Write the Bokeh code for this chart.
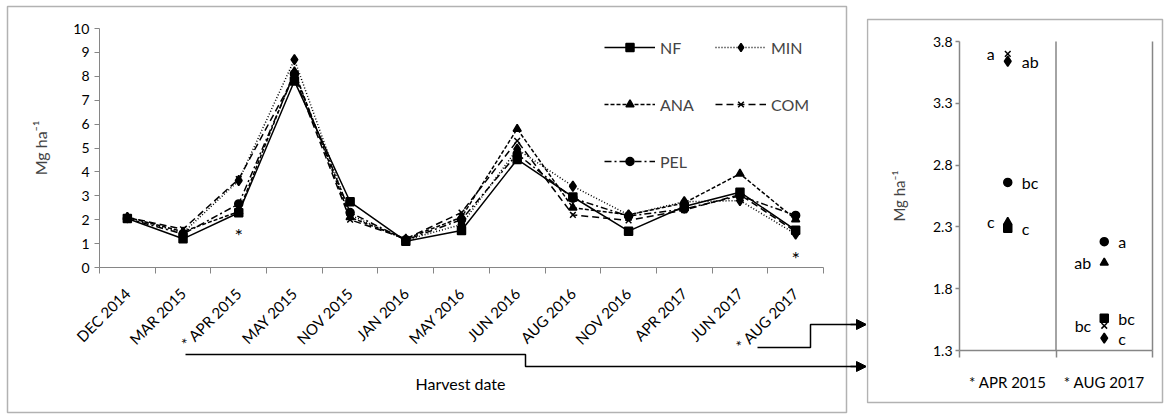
import math
from bokeh.plotting import figure
from bokeh.layouts import row
from bokeh.models import (FixedTicker, Legend, LegendItem, BoxAnnotation, Arrow,
                          NormalHead, Label, ColumnDataSource, Range1d)
from bokeh.core.properties import value
from bokeh.embed import file_html
from bokeh.resources import INLINE

FONT = "Lato"

dates = ["DEC 2014", "MAR 2015", "* APR 2015", "MAY 2015", "NOV 2015", "JAN 2016",
         "MAY 2016", "JUN 2016", "AUG 2016", "NOV 2016", "APR 2017", "JUN 2017",
         "* AUG 2017"]
NF = [2.05, 1.20, 2.29, 7.80, 2.75, 1.10, 1.55, 4.52, 2.95, 1.52, 2.55, 3.15, 1.56]
MIN = [2.10, 1.45, 3.64, 8.70, 2.20, 1.15, 1.80, 4.95, 3.40, 2.20, 2.75, 2.80, 1.40]
ANA = [2.10, 1.50, 2.34, 8.20, 2.10, 1.20, 2.10, 5.80, 2.50, 2.20, 2.70, 3.92, 2.01]
COM = [2.10, 1.60, 3.70, 8.00, 2.00, 1.20, 2.30, 5.30, 2.20, 1.97, 2.40, 3.05, 1.50]
PEL = [2.05, 1.40, 2.66, 8.10, 2.30, 1.15, 2.00, 4.75, 2.90, 2.15, 2.45, 3.00, 2.18]

series_names = ["NF", "MIN", "ANA", "COM", "PEL"]
series_vals = [NF, MIN, ANA, COM, PEL]

# inset (dates with significant differences)
inset_dates = ["* APR 2015", "* AUG 2017"]
APR_2015 = [2.29, 3.64, 2.34, 3.70, 2.66]   # NF, MIN, ANA, COM, PEL
AUG_2017 = [1.56, 1.40, 2.01, 1.50, 2.18]
APR_letters = ["c", "ab", "c", "a", "bc"]
APR_sides = ["right", "right", "left", "left", "right"]
AUG_letters = ["bc", "c", "ab", "bc", "a"]
AUG_sides = ["right", "right", "left", "left", "right"]

styles = {
    "NF":  dict(dash="solid", marker="square", size=8),
    "MIN": dict(dash="1 2", marker="diamond", size=10),
    "ANA": dict(dash="4 2", marker="triangle", size=8),
    "COM": dict(dash="7 4", marker="x", size=8),
    "PEL": dict(dash="7 3 2 3", marker="circle", size=8),
}

GRAY = "#868686"
H = 415

# ---------------- main chart ----------------
n = len(dates)
xc = [i + 0.5 for i in range(n)]

W1 = 866
FL, FB = 99, 267          # pixel position of (x=0, y=0)
SX, SY = 55.692, 23.9     # pixels per unit

def px1(page_x):
    return (page_x - FL) / SX

def py1(page_y):
    return (FB - page_y) / SY

p = figure(width=W1, height=H,
           x_range=Range1d(-FL / SX, (W1 - FL) / SX),
           y_range=Range1d(-(H - FB) / SY, FB / SY),
           output_backend="svg", toolbar_location=None,
           min_border_left=0, min_border_right=0, min_border_top=0,
           min_border_bottom=0)
p.outline_line_color = None
p.xgrid.visible = False
p.ygrid.visible = False

items = []
for name, vals in zip(series_names, series_vals):
    st = styles[name]
    lr = p.line(xc, vals, line_color="black", line_width=1.5, line_dash=st["dash"])
    sr = p.scatter(xc, vals, marker=st["marker"], size=st["size"],
                   fill_color="black", line_color="black", line_width=1.5)
    items.append(LegendItem(label=name, renderers=[lr, sr]))

def make_legend(its, loc):
    return Legend(items=its, location=loc,
                  label_text_font=FONT, label_text_font_size="16px",
                  glyph_width=51, glyph_height=20, label_height=20, spacing=37,
                  label_standoff=5, padding=0, margin=0,
                  border_line_color=None, background_fill_alpha=0)

# column 1: NF, ANA, PEL ; column 2: MIN, COM
p.add_layout(make_legend([items[0], items[2], items[4]], (604, H - (37 + 134))))
p.add_layout(make_legend([items[1], items[3]], (715, H - (37 + 77))))

# y axis
p.yaxis.fixed_location = 0
p.yaxis.bounds = (0, 10)
p.yaxis.ticker = FixedTicker(ticks=list(range(0, 11)))
p.yaxis.axis_line_color = GRAY
p.yaxis.major_tick_line_color = GRAY
p.yaxis.major_tick_out = 5
p.yaxis.major_tick_in = 0
p.yaxis.minor_tick_line_color = None
p.yaxis.major_label_text_font = FONT
p.yaxis.major_label_text_font_size = "14px"
p.yaxis.major_label_text_color = "black"
p.yaxis.axis_label = "Mg ha\u207b\u00b9"
p.yaxis.axis_label_text_font = FONT
p.yaxis.axis_label_text_font_size = "16px"
p.yaxis.axis_label_text_font_style = "normal"
p.yaxis.axis_label_standoff = 20

# x axis
p.xaxis.fixed_location = 0
p.xaxis.bounds = (0, n)
p.xaxis.ticker = FixedTicker(ticks=xc, minor_ticks=list(range(0, n + 1)))
p.xaxis.major_label_overrides = {x: d for x, d in zip(xc, dates)}
p.xaxis.major_label_orientation = math.pi / 4
p.xaxis.axis_line_color = GRAY
p.xaxis.major_tick_line_color = None
p.xaxis.minor_tick_line_color = GRAY
p.xaxis.minor_tick_out = 6
p.xaxis.minor_tick_in = 0
p.xaxis.major_label_text_font = FONT
p.xaxis.major_label_text_font_size = "15px"
p.xaxis.major_label_text_color = "black"
p.xaxis.major_label_standoff = 17

# significance asterisks
p.text(x=[2.5, 12.5], y=[1.38, 0.38], text=["*", "*"], text_align="center",
       text_baseline="middle", text_font=value(FONT), text_font_size="20px",
       text_color="black")

p.add_layout(Label(x=px1(460), y=py1(383), text="Harvest date", text_align="center",
                   text_baseline="middle", text_font=FONT, text_font_size="16px",
                   text_color="black"))

# outer frame of the main panel
p.add_layout(BoxAnnotation(left=px1(7), right=px1(846), top=py1(6), bottom=py1(412),
                           fill_alpha=0, line_color="black", line_width=1.5))

# connectors to the inset
p.line([px1(185), px1(525), px1(525), px1(858)],
       [py1(354), py1(354), py1(366), py1(366)], line_color="black", line_width=1.5)
p.line([px1(757), px1(810), px1(810), px1(858)],
       [py1(347), py1(347), py1(324), py1(324)], line_color="black", line_width=1.5)
for yy in (366, 324):
    p.add_layout(Arrow(x_start=px1(850), y_start=py1(yy), x_end=px1(866), y_end=py1(yy),
                       line_color="black", line_width=1.5,
                       end=NormalHead(size=10, fill_color="black", line_color="black")))

# ---------------- inset ----------------
W2 = 1164 - W1
QL, QB = 959 - W1, 350     # canvas pixel of (x=0, y=1.3)
QSX, QSY = 96.5, 123.6

def px2(page_x):
    return (page_x - 959) / QSX

def py2(page_y):
    return 3.8 - (page_y - 41) / QSY

q = figure(width=W2, height=H,
           x_range=Range1d(-QL / QSX, (W2 - QL) / QSX),
           y_range=Range1d(1.3 - (H - QB) / QSY, 1.3 + QB / QSY),
           output_backend="svg", toolbar_location=None,
           min_border_left=0, min_border_right=0, min_border_top=0,
           min_border_bottom=0)
q.outline_line_color = None
q.xgrid.visible = False
q.ygrid.visible = False

# axis lines and category separators (gray)
q.line([0, 0], [1.3, 3.8], line_color=GRAY, line_width=1.5)
q.line([0, 2], [1.3, 1.3], line_color=GRAY, line_width=1.5)
q.line([1, 1], [1.3, 3.8], line_color=GRAY, line_width=1.5)
q.line([2, 2], [1.3, 3.8], line_color=GRAY, line_width=1.5)

for k, name in enumerate(series_names):
    st = styles[name]
    q.scatter([0.5, 1.5], [APR_2015[k], AUG_2017[k]], marker=st["marker"],
              size=st["size"], fill_color="black", line_color="black", line_width=1.5)

for xpos, vals, letters, sides in [(0.5, APR_2015, APR_letters, APR_sides),
                                   (1.5, AUG_2017, AUG_letters, AUG_sides)]:
    for side in ["left", "right"]:
        idx = [i for i, s in enumerate(sides) if s == side]
        src = ColumnDataSource(dict(x=[xpos] * len(idx), y=[vals[i] for i in idx],
                                    t=[letters[i] for i in idx]))
        q.text(x="x", y="y", text="t", source=src,
               text_align="left" if side == "right" else "right",
               x_offset=14 if side == "right" else -13,
               text_baseline="middle", text_font=value(FONT),
               text_font_size="16px", text_color="black")

q.yaxis.fixed_location = 0
q.yaxis.bounds = (1.3, 3.8)
q.yaxis.ticker = FixedTicker(ticks=[1.3, 1.8, 2.3, 2.8, 3.3, 3.8])
q.yaxis.major_label_overrides = {1.3: "1.3", 1.8: "1.8", 2.3: "2.3", 2.8: "2.8",
                                 3.3: "3.3", 3.8: "3.8"}
q.yaxis.axis_line_color = None
q.yaxis.major_tick_line_color = GRAY
q.yaxis.major_tick_line_width = 1.5
q.yaxis.major_tick_out = 4
q.yaxis.major_tick_in = 0
q.yaxis.minor_tick_line_color = None
q.yaxis.major_label_standoff = 3
q.yaxis.major_label_text_font = FONT
q.yaxis.major_label_text_font_size = "14px"
q.yaxis.major_label_text_color = "black"
q.yaxis.axis_label = "Mg ha\u207b\u00b9"
q.yaxis.axis_label_text_font = FONT
q.yaxis.axis_label_text_font_size = "15px"
q.yaxis.axis_label_text_font_style = "normal"
q.yaxis.axis_label_standoff = 22

q.xaxis.fixed_location = 1.3
q.xaxis.bounds = (0, 2)
q.xaxis.ticker = FixedTicker(ticks=[0.5, 1.5], minor_ticks=[0, 1, 2])
q.xaxis.major_label_overrides = {0.5: inset_dates[0], 1.5: inset_dates[1]}
q.xaxis.axis_line_color = None
q.xaxis.major_tick_line_color = None
q.xaxis.minor_tick_line_color = GRAY
q.xaxis.minor_tick_line_width = 1.5
q.xaxis.minor_tick_out = 7
q.xaxis.minor_tick_in = 0
q.xaxis.major_label_standoff = 15
q.xaxis.major_label_text_font = FONT
q.xaxis.major_label_text_font_size = "15px"
q.xaxis.major_label_text_color = "black"

q.add_layout(BoxAnnotation(left=px2(867), right=px2(1162), top=py2(19), bottom=py2(402),
                           fill_alpha=0, line_color="black", line_width=1.5))

layout = row(p, q, spacing=0)
open("out.html", "w").write(file_html(layout, INLINE))
